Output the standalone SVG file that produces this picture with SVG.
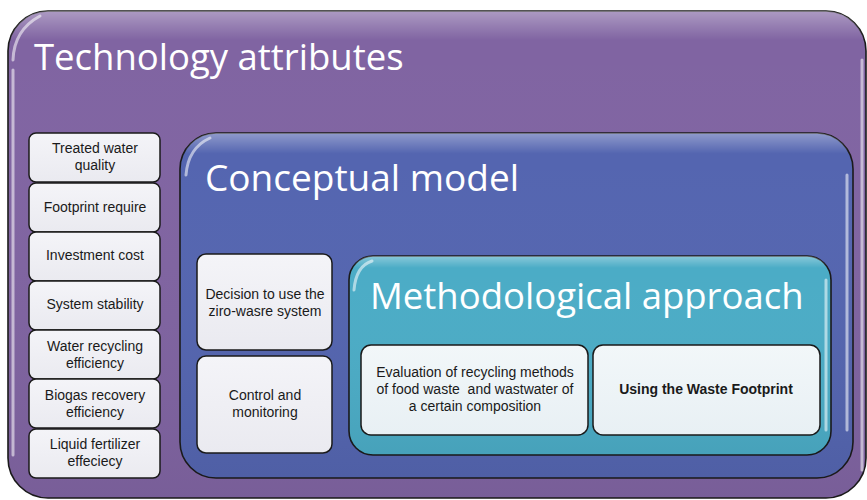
<svg xmlns="http://www.w3.org/2000/svg" width="867" height="500" viewBox="0 0 867 500">
  <defs>
    <linearGradient id="gloss" x1="0" y1="0" x2="0" y2="1">
      <stop offset="0" stop-color="#ffffff" stop-opacity="0.35"/>
      <stop offset="0.06" stop-color="#ffffff" stop-opacity="0"/>
      <stop offset="1" stop-color="#000000" stop-opacity="0.06"/>
    </linearGradient>
    <linearGradient id="card" x1="0" y1="0" x2="0" y2="1">
      <stop offset="0" stop-color="#f4f4f8"/>
      <stop offset="1" stop-color="#eaeaf0"/>
    </linearGradient>
    <linearGradient id="cardBlue" x1="0" y1="0" x2="0" y2="1">
      <stop offset="0" stop-color="#f2f7f9"/>
      <stop offset="1" stop-color="#e8f0f4"/>
    </linearGradient>
  </defs>
  <style>
    .frame { stroke: #1a1a1a; stroke-width: 1.6; }
    .hl { fill: none; stroke: #ffffff; stroke-opacity: 0.55; stroke-width: 3; stroke-linecap: round; }
    .title { font-family: "Open Sans", "Liberation Sans", sans-serif; fill: #ffffff; }
    .item { fill: url(#card); stroke: #1a1a1a; stroke-width: 1.5; }
    .itemB { fill: url(#cardBlue); stroke: #1a1a1a; stroke-width: 1.5; }
    .lbl { font-family: "Liberation Sans", Arial, sans-serif; font-size: 14px; fill: #1a1a1a; text-anchor: middle; white-space: pre; }
  </style>

  <rect width="867" height="500" fill="#ffffff"/>

  <!-- outer container -->
  <g id="technology-attributes">
    <rect class="frame" x="8" y="11" width="858" height="487" rx="40" fill="#8064a2"/>
    <rect x="8" y="11" width="858" height="487" rx="40" fill="url(#gloss)"/>
    <path class="hl" d="M13 60 Q14 30 40 16"/>
    <path class="hl" d="M13 70 L13 455"/>
    <path class="hl" d="M862 60 L862 470"/>
    <text class="title" x="34" y="70" font-size="36.5">Technology attributes</text>
  </g>

  <!-- attribute list -->
  <g id="attr-1"><rect class="item" x="29" y="133" width="131" height="49" rx="7"/>
    <text class="lbl" x="95" y="153">Treated water</text><text class="lbl" x="95" y="170">quality</text></g>
  <g id="attr-2"><rect class="item" x="29" y="183" width="131" height="49" rx="7"/>
    <text class="lbl" x="95" y="212">Footprint require</text></g>
  <g id="attr-3"><rect class="item" x="29" y="232" width="131" height="49" rx="7"/>
    <text class="lbl" x="95" y="260">Investment cost</text></g>
  <g id="attr-4"><rect class="item" x="29" y="281" width="131" height="49" rx="7"/>
    <text class="lbl" x="95" y="309">System stability</text></g>
  <g id="attr-5"><rect class="item" x="29" y="330" width="131" height="49" rx="7"/>
    <text class="lbl" x="95" y="351">Water recycling</text><text class="lbl" x="95" y="368">efficiency</text></g>
  <g id="attr-6"><rect class="item" x="29" y="379" width="131" height="49" rx="7"/>
    <text class="lbl" x="95" y="400">Biogas recovery</text><text class="lbl" x="95" y="417">efficiency</text></g>
  <g id="attr-7"><rect class="item" x="29" y="429" width="131" height="49" rx="7"/>
    <text class="lbl" x="95" y="449">Liquid fertilizer</text><text class="lbl" x="95" y="466">effeciecy</text></g>

  <!-- conceptual model container -->
  <g id="conceptual-model">
    <rect class="frame" x="180" y="133" width="673" height="345" rx="36" fill="#5465b0"/>
    <rect x="180" y="133" width="673" height="345" rx="36" fill="url(#gloss)"/>
    <path class="hl" d="M186 175 Q188 148 210 138"/>
    <path class="hl" d="M847 175 L847 430"/>
    <text class="title" x="205" y="191" font-size="37">Conceptual model</text>
  </g>

  <g id="decision"><rect class="item" x="197" y="254" width="135" height="96" rx="9"/>
    <text class="lbl" x="265" y="299">Decision to use the</text><text class="lbl" x="265" y="316">ziro-wasre system</text></g>
  <g id="control"><rect class="item" x="197" y="356" width="135" height="97" rx="9"/>
    <text class="lbl" x="265" y="400">Control and</text><text class="lbl" x="265" y="417">monitoring</text></g>

  <!-- methodological approach container -->
  <g id="methodological-approach">
    <rect class="frame" x="349" y="256" width="482" height="199" rx="24" fill="#4bacc6"/>
    <rect x="349" y="256" width="482" height="199" rx="24" fill="url(#gloss)"/>
    <path class="hl" d="M354 290 Q356 266 372 261"/>
    <path class="hl" d="M826 280 L826 430"/>
    <text class="title" x="370" y="309" font-size="36.5">Methodological approach</text>
  </g>

  <g id="evaluation"><rect class="itemB" x="361" y="345" width="227" height="90" rx="10"/>
    <text class="lbl" x="475" y="377">Evaluation of recycling methods</text>
    <text class="lbl" x="475" y="394" xml:space="preserve">of food waste  and wastwater of</text>
    <text class="lbl" x="475" y="411">a certain composition</text></g>
  <g id="waste-footprint"><rect class="itemB" x="593" y="345" width="227" height="90" rx="10"/>
    <text class="lbl" x="706" y="394" font-weight="bold" font-size="13.5">Using the Waste Footprint</text></g>

  <!-- connectors: none drawn -->
  <g id="connectors"/>
</svg>
